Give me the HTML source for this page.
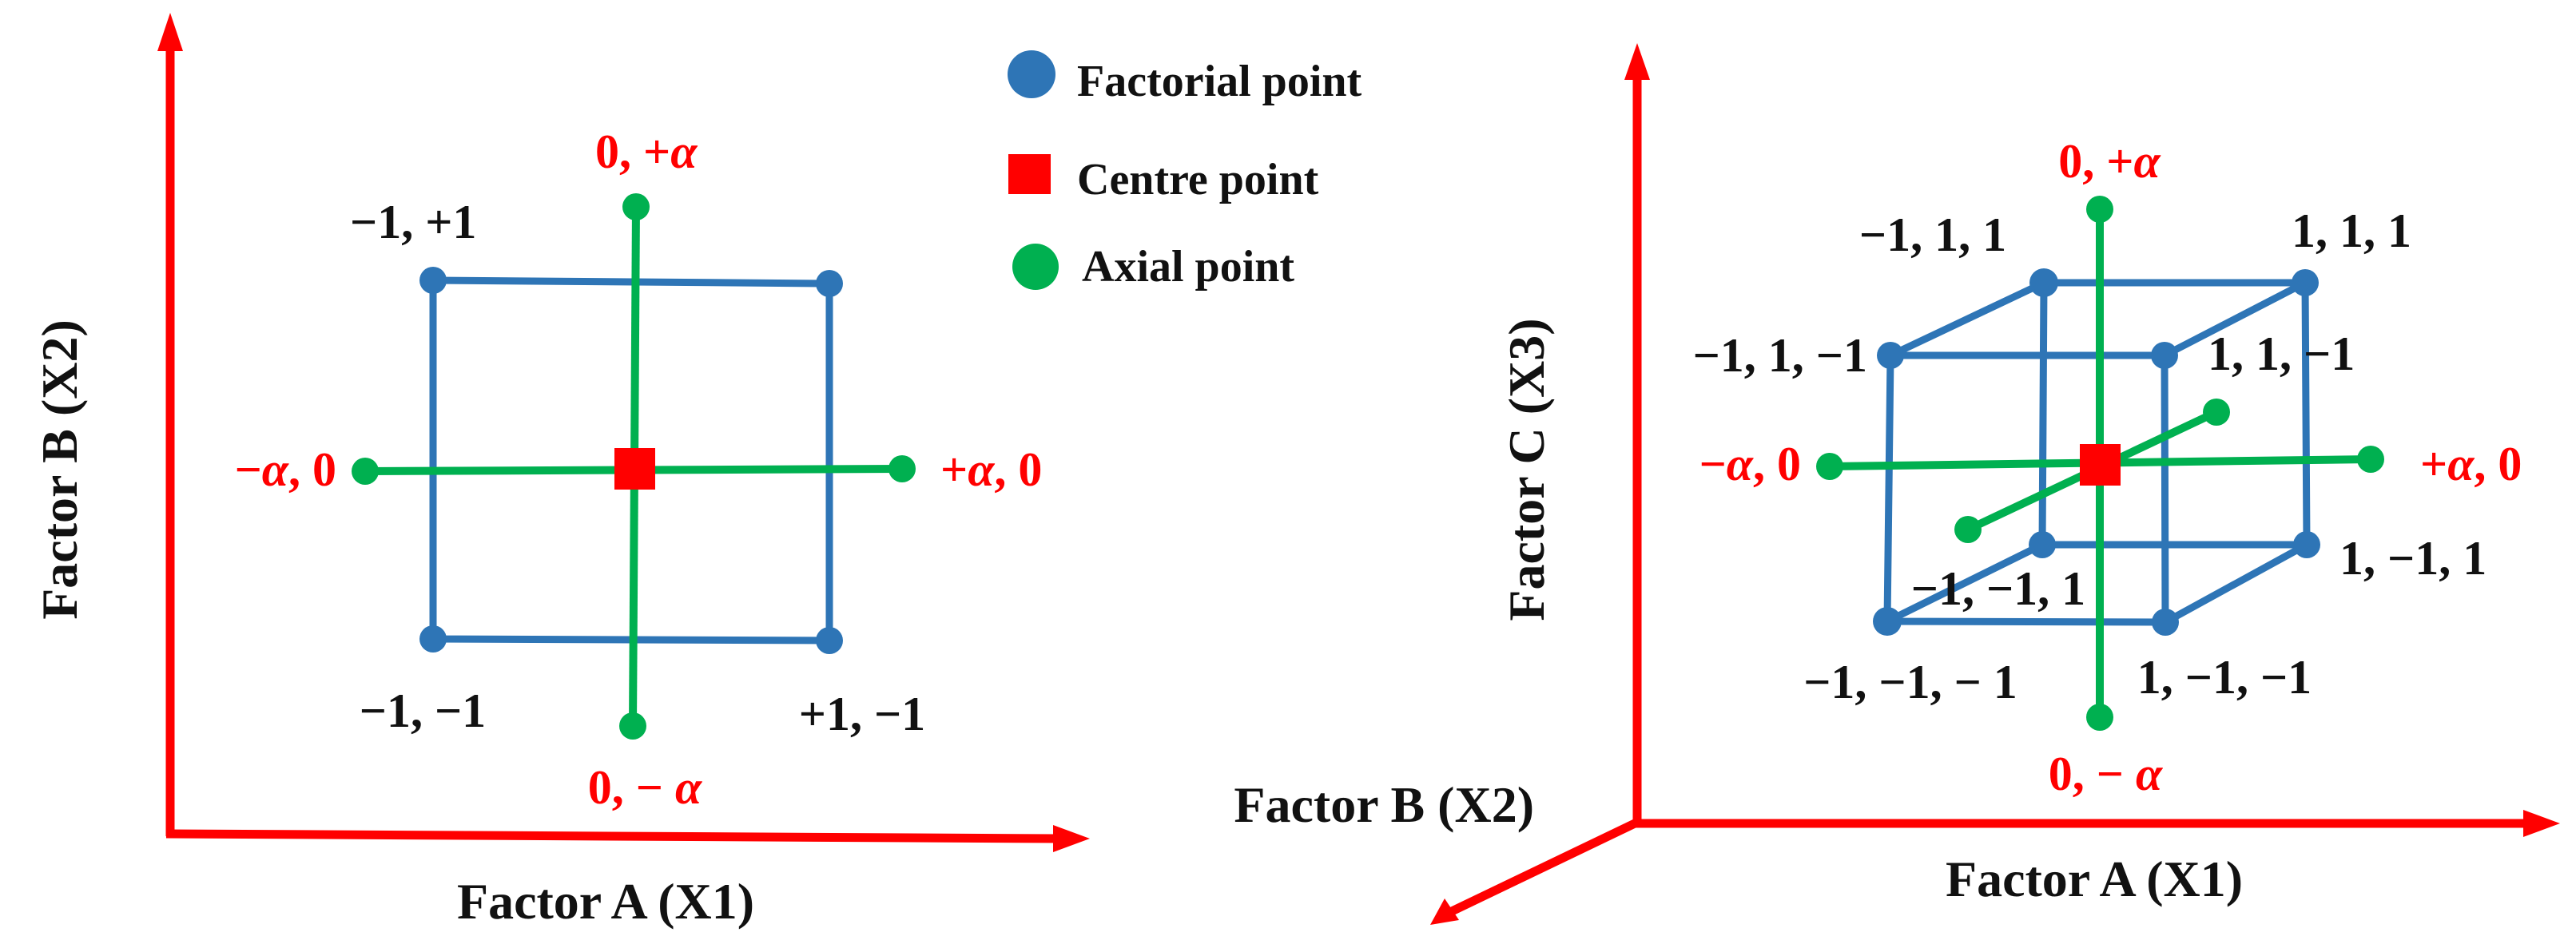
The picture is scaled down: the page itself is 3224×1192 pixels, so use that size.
<!DOCTYPE html>
<html><head><meta charset="utf-8"><style>
html,body{margin:0;padding:0;background:#fff;}
svg{display:block;}
text{font-family:"Liberation Serif",serif;font-weight:bold;}
.b{fill:#111;font-size:60px;}
.r{fill:#ff0000;font-size:60px;}
.ax{fill:#111;font-size:64px;}
.lg{fill:#111;font-size:56px;}
.i{font-style:italic;}
</style></head><body>
<svg width="3224" height="1192" viewBox="0 0 3224 1192" xmlns="http://www.w3.org/2000/svg">
<g stroke="#ff0000" stroke-width="11" fill="none">
<line x1="213" y1="60" x2="213" y2="1047"/>
<line x1="208" y1="1044" x2="1325" y2="1050"/>
</g>
<polygon points="213,16 197,64 229,64" fill="#ff0000"/>
<polygon points="1364,1050 1318,1033 1318,1067" fill="#ff0000"/>
<g stroke="#2e75b6" stroke-width="9" fill="none" stroke-linejoin="round">
<polygon points="542,351 1038,355 1038,802 542,800"/>
</g>
<g fill="#2e75b6">
<circle cx="542" cy="351" r="17"/><circle cx="1038" cy="355" r="17"/>
<circle cx="542" cy="800" r="17"/><circle cx="1038" cy="802" r="17"/>
</g>
<g stroke="#00b050" stroke-width="10">
<line x1="796" y1="259" x2="792" y2="909"/>
<line x1="457" y1="590" x2="1129" y2="587"/>
</g>
<g fill="#00b050">
<circle cx="796" cy="259" r="17"/><circle cx="792" cy="909" r="17"/>
<circle cx="457" cy="590" r="17"/><circle cx="1129" cy="587" r="17"/>
</g>
<rect x="769" y="561" width="51" height="52" fill="#ff0000"/>
<text class="r" x="745" y="210">0, +<tspan class="i">α</tspan></text>
<text class="b" x="438" y="298">−1, +1</text>
<text class="r" x="421" y="608" text-anchor="end">−<tspan class="i">α</tspan>, 0</text>
<text class="r" x="1177" y="608">+<tspan class="i">α</tspan>, 0</text>
<text class="b" x="529" y="910" text-anchor="middle">−1, −1</text>
<text class="b" x="1079" y="914" text-anchor="middle">+1, −1</text>
<text class="r" x="807" y="1006" text-anchor="middle">0, − <tspan class="i">α</tspan></text>
<text class="ax" x="758" y="1150" text-anchor="middle">Factor A (X1)</text>
<text class="ax" x="0" y="0" text-anchor="middle" transform="translate(96,588) rotate(-90)">Factor B (X2)</text>

<circle cx="1291" cy="93" r="30" fill="#2e75b6"/>
<rect x="1262" y="193" width="53" height="50" fill="#ff0000"/>
<circle cx="1296" cy="334" r="29" fill="#00b050"/>
<text class="lg" x="1348" y="120">Factorial point</text>
<text class="lg" x="1348" y="243">Centre point</text>
<text class="lg" x="1354" y="352">Axial point</text>

<g stroke="#ff0000" stroke-width="11" fill="none">
<line x1="2049" y1="95" x2="2049" y2="1035"/>
<line x1="2044" y1="1031" x2="3165" y2="1031"/>
<line x1="2046" y1="1031" x2="1815" y2="1142"/>
</g>
<polygon points="2049,54 2033,100 2065,100" fill="#ff0000"/>
<polygon points="3204,1031 3158,1014 3158,1048" fill="#ff0000"/>
<polygon points="1790,1158 1808,1125 1826,1152" fill="#ff0000"/>
<g stroke="#2e75b6" stroke-width="9" fill="none" stroke-linejoin="round">
<polygon points="2558,354 2885,354 2887,682 2556,682"/>
<polygon points="2366,445 2709,445 2710,779 2362,778"/>
<line x1="2366" y1="445" x2="2558" y2="354"/>
<line x1="2709" y1="445" x2="2885" y2="354"/>
<line x1="2362" y1="778" x2="2556" y2="682"/>
<line x1="2710" y1="779" x2="2887" y2="682"/>
</g>
<g fill="#2e75b6">
<circle cx="2558" cy="354" r="18"/><circle cx="2885" cy="354" r="17"/>
<circle cx="2887" cy="682" r="17"/><circle cx="2556" cy="682" r="17"/>
<circle cx="2366" cy="445" r="17"/><circle cx="2709" cy="445" r="17"/>
<circle cx="2710" cy="779" r="17"/><circle cx="2362" cy="778" r="18"/>
</g>
<g stroke="#00b050" stroke-width="10">
<line x1="2628" y1="262" x2="2628" y2="898"/>
<line x1="2290" y1="584" x2="2967" y2="575"/>
<line x1="2463" y1="663" x2="2774" y2="516"/>
</g>
<g fill="#00b050">
<circle cx="2628" cy="262" r="17"/><circle cx="2628" cy="898" r="17"/>
<circle cx="2290" cy="584" r="17"/><circle cx="2967" cy="575" r="17"/>
<circle cx="2463" cy="663" r="17"/><circle cx="2774" cy="516" r="17"/>
</g>
<rect x="2603" y="556" width="51" height="52" fill="#ff0000"/>
<text class="r" x="2640" y="222" text-anchor="middle">0, +<tspan class="i">α</tspan></text>
<text class="b" x="2419" y="314" text-anchor="middle">−1, 1, 1</text>
<text class="b" x="2943" y="309" text-anchor="middle">1, 1, 1</text>
<text class="b" x="2337" y="465" text-anchor="end">−1, 1, −1</text>
<text class="b" x="2763" y="463">1, 1, −1</text>
<text class="r" x="2254" y="601" text-anchor="end">−<tspan class="i">α</tspan>, 0</text>
<text class="r" x="3029" y="601">+<tspan class="i">α</tspan>, 0</text>
<text class="b" x="2928" y="719">1, −1, 1</text>
<text class="b" x="2501" y="757" text-anchor="middle">−1, −1, 1</text>
<text class="b" x="2391" y="874" text-anchor="middle">−1, −1, − 1</text>
<text class="b" x="2784" y="868" text-anchor="middle">1, −1, −1</text>
<text class="r" x="2635" y="989" text-anchor="middle">0, − <tspan class="i">α</tspan></text>
<text class="ax" x="2621" y="1122" text-anchor="middle">Factor A (X1)</text>
<text class="ax" x="1920" y="1029" text-anchor="end">Factor B (X2)</text>
<text class="ax" x="0" y="0" text-anchor="middle" transform="translate(1932,588) rotate(-90)">Factor C (X3)</text>
</svg>
</body></html>
